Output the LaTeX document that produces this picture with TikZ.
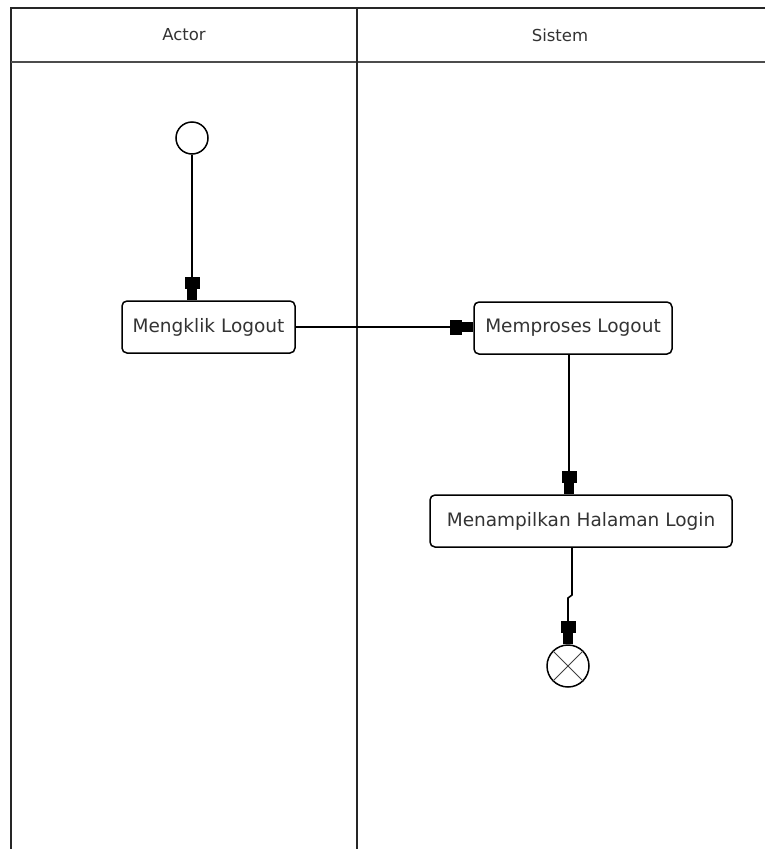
\documentclass[tikz,border=0pt]{standalone}
\usepackage{fontspec}
\setmainfont{DejaVu Sans}
\usetikzlibrary{arrows.meta}
\begin{document}
\begin{tikzpicture}[x=1pt,y=-1pt,
  lane/.style={line width=2pt, draw=black!85},
  header/.style={text=black!80, font=\fontsize{16.5}{20}\selectfont},
  action/.style={draw, line width=1.5pt, rounded corners=5pt, fill=white,
    text=black!80, font=\fontsize{18.5}{22}\selectfont,
    minimum height=52pt, inner sep=0pt},
  flow/.style={line width=1.6pt,
    -{Rectangle[length=12pt,width=15pt,sep=0pt]Rectangle[length=11pt,width=10pt]}},
  startnode/.style={draw, circle, line width=1.5pt, minimum size=32pt, inner sep=0pt},
  endnode/.style={draw, circle, line width=1.5pt, minimum size=42pt, inner sep=0pt}
]
\useasboundingbox (0,0) rectangle (764,849);

% swimlane frame
\draw[lane] (11,851) -- (11,8) -- (766,8);
\draw[lane, draw=black!70] (11,62) -- (766,62);
\draw[lane] (357,8) -- (357,851);

\node[header] (hactor) at (184,35) {Actor};
\node[header] (hsistem) at (560,35) {Sistem};

% activity nodes
\node[startnode] (start) at (192,138) {};
\node[action, minimum width=173pt] (klik) at (208.5,327) {Mengklik Logout};
\node[action, minimum width=198pt] (proses) at (573,328) {Memproses Logout};
\node[action, minimum width=302pt] (tampil) at (581,521) {Menampilkan Halaman Login};
\node[endnode] (stop) at (568,666) {};
\draw[line width=1pt, black!75] (stop.45) -- (stop.225) (stop.135) -- (stop.315);

% helper points for the connectors
\coordinate (xdown) at (569,0);
\coordinate (xout) at (572,0);
\coordinate (jogtop) at (572,595);
\coordinate (jogbot) at (568,598);

% control flow
\draw[flow] (start.south) -- (start.south |- klik.north);
\draw[flow] (klik.east) -- (klik.east -| proses.west);
\draw[flow] (proses.south -| xdown) -- (tampil.north -| xdown);
\draw[flow] (tampil.south -| xout) -- (jogtop) -- (jogbot) -- (stop.north);
\end{tikzpicture}
\end{document}
